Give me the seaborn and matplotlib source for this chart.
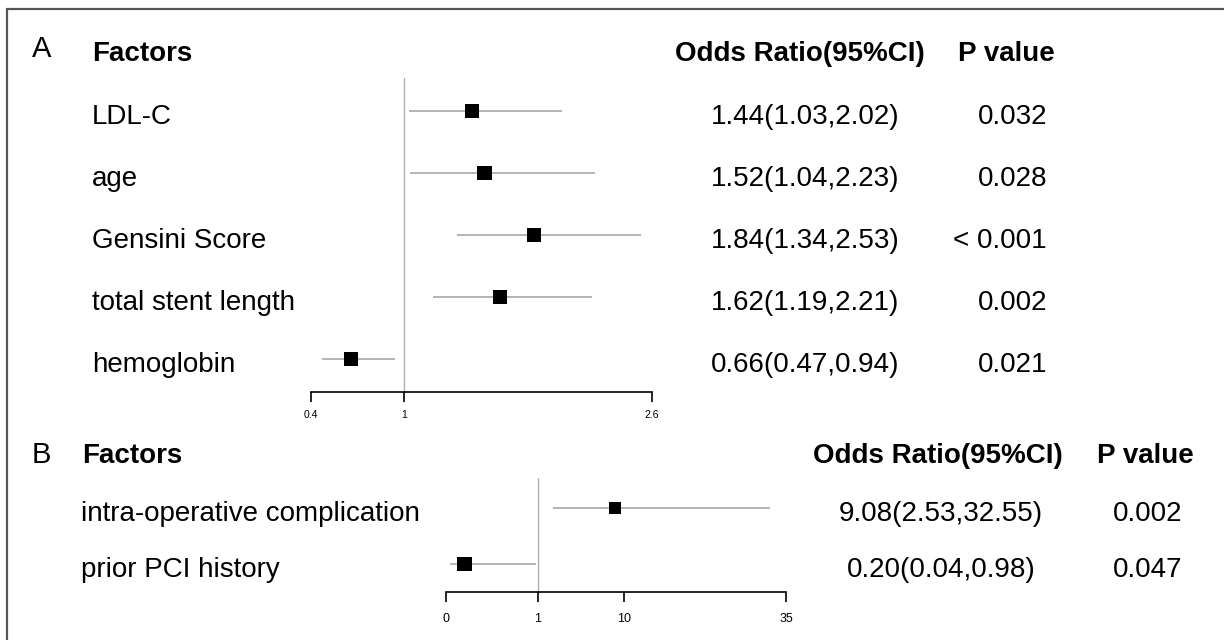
import numpy as np
import pandas as pd
import seaborn as sns
import matplotlib
matplotlib.use('Agg')
import matplotlib.pyplot as plt
from matplotlib.lines import Line2D
from matplotlib.transforms import blended_transform_factory, ScaledTranslation

sns.set_style('white')
plt.rcParams['font.family'] = ['Liberation Sans', 'DejaVu Sans']
plt.rcParams['text.color'] = 'black'

# panel A data
factors_a = ['LDL-C', 'age', 'Gensini Score', 'total stent length', 'hemoglobin']
or_a = [1.44, 1.52, 1.84, 1.62, 0.66]
lo_a = [1.03, 1.04, 1.34, 1.19, 0.47]
hi_a = [2.02, 2.23, 2.53, 2.21, 0.94]
p_a = ['0.032', '0.028', '< 0.001', '0.002', '0.021']
ticks_a = [0.4, 1, 2.6]

# panel B data
factors_b = ['intra-operative complication', 'prior PCI history']
or_b = [9.08, 0.20]
lo_b = [2.53, 0.04]
hi_b = [32.55, 0.98]
p_b = ['0.002', '0.047']
ticks_b = [0, 1, 10, 35]

W, H = 1224, 640
fig = plt.figure(figsize=(W / 100, H / 100), dpi=100)

def fx(px):
    return px / W

def fy(py):
    return 1 - py / H

def make_df(f, o, l, h):
    return pd.DataFrame({'factor': f, 'or': o, 'lo': l, 'hi': h, 'row': np.arange(len(f))})

df_a = make_df(factors_a, or_a, lo_a, hi_a)
df_b = make_df(factors_b, or_b, lo_b, hi_b)

# outer frame: only left and top edges are inside the image
fig.add_artist(Line2D([fx(7), fx(7)], [0, fy(9)], transform=fig.transFigure,
                      color='#555555', lw=1.6))
fig.add_artist(Line2D([fx(7), 1], [fy(9), fy(9)], transform=fig.transFigure,
                      color='#555555', lw=1.6))

def forest(ax, df, tick_size, tick_pad, box_sizes):
    ax.hlines(df['row'], df['lo'], df['hi'], color='#a8a8a8', lw=1.2, zorder=1)
    ax.axvline(1, color='#b0b0b0', lw=1.0, zorder=0)
    sns.scatterplot(data=df, x='or', y='row', marker='s', color='black',
                    s=box_sizes, edgecolor='none', ax=ax, zorder=3, legend=False)
    ax.tick_params(axis='x', bottom=True, direction='out', length=7, width=1.2, pad=tick_pad,
                   labelsize=tick_size, colors='black')
    ax.tick_params(axis='y', left=False, labelleft=False)
    for s in ['top', 'left', 'right']:
        ax.spines[s].set_visible(False)
    ax.spines['bottom'].set_color('black')
    ax.spines['bottom'].set_linewidth(1.2)
    ax.set_xlabel('')
    ax.set_ylabel('')
    ax.set_facecolor('none')

def row_text(ax, df, pvals, label_x, or_x, p_x):
    off = ScaledTranslation(0, -13 / 100, fig.dpi_scale_trans)
    tr = blended_transform_factory(fig.transFigure, ax.transData) + off
    for _, r in df.iterrows():
        y = r['row']
        ax.text(fx(label_x), y, r['factor'], transform=tr, fontsize=20,
                ha='left', va='baseline', color='black', clip_on=False)
        ax.text(fx(or_x), y, f"{r['or']:.2f}({r['lo']:.2f},{r['hi']:.2f})", transform=tr,
                fontsize=20, ha='center', va='baseline', color='black', clip_on=False)
        ax.text(fx(p_x), y, pvals[int(y)], transform=tr, fontsize=20,
                ha='right', va='baseline', color='black', clip_on=False)

# ---- panel A
ax_a = fig.add_axes([fx(311), fy(392), (652 - 311) / W, (392 - 78) / H])
forest(ax_a, df_a, 7.5, 6, 105)
ax_a.set_xlim(0.4, 2.6)
ax_a.set_xticks(ticks_a)
ax_a.set_xticklabels([f'{t:g}' for t in ticks_a])
ax_a.spines['bottom'].set_bounds(ticks_a[0], ticks_a[-1])
ax_a.set_ylim(len(factors_a) - 0.468, -0.532)
row_text(ax_a, df_a, p_a, 92, 805, 1047)

fig.text(fx(32), fy(57), 'A', fontsize=21, ha='left', va='baseline')
fig.text(fx(92), fy(61), 'Factors', fontsize=20, weight='bold', ha='left', va='baseline')
fig.text(fx(675), fy(61), 'Odds Ratio(95%CI)', fontsize=20, weight='bold', ha='left', va='baseline')
fig.text(fx(958), fy(61), 'P value', fontsize=20, weight='bold', ha='left', va='baseline')

# ---- panel B (axis spacing as in the original figure)
knots = [0, 1, 10, 35]
pos = [0, 92, 178, 340]

def fwd(x):
    return np.interp(x, knots, pos)

def inv(y):
    return np.interp(y, pos, knots)

ax_b = fig.add_axes([fx(446), fy(592), (786 - 446) / W, (592 - 478) / H])
ax_b.set_xscale('function', functions=(fwd, inv))
forest(ax_b, df_b, 9, 8, [75, 110])
ax_b.set_xscale('function', functions=(fwd, inv))
ax_b.set_xlim(0, 35)
ax_b.set_xticks(ticks_b)
ax_b.set_xticklabels([str(t) for t in ticks_b])
ax_b.minorticks_off()
ax_b.spines['bottom'].set_bounds(0, 35)
ax_b.set_ylim(1.5, -0.536)
row_text(ax_b, df_b, p_b, 81, 941, 1182)

fig.text(fx(32), fy(463), 'B', fontsize=21, ha='left', va='baseline')
fig.text(fx(82), fy(463), 'Factors', fontsize=20, weight='bold', ha='left', va='baseline')
fig.text(fx(813), fy(463), 'Odds Ratio(95%CI)', fontsize=20, weight='bold', ha='left', va='baseline')
fig.text(fx(1097), fy(463), 'P value', fontsize=20, weight='bold', ha='left', va='baseline')

fig.savefig('out.png', dpi=100, facecolor='white')
